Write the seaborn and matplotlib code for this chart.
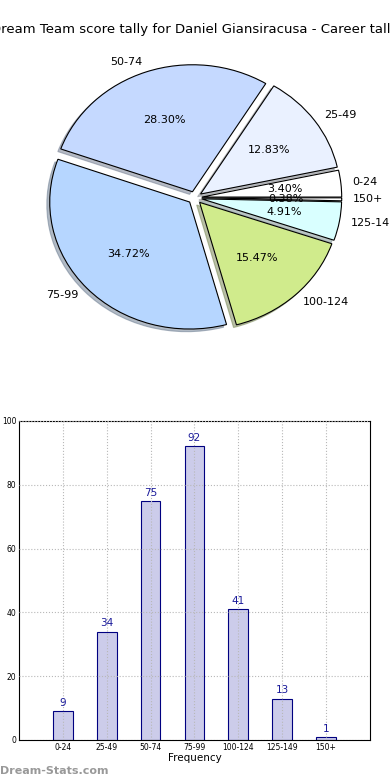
import matplotlib
matplotlib.use("Agg")
import matplotlib.pyplot as plt
import seaborn as sns
import pandas as pd

categories = ["0-24", "25-49", "50-74", "75-99", "100-124", "125-149", "150+"]
counts = [9, 34, 75, 92, 41, 13, 1]
pie_colors = ["#ffffff", "#eaf1ff", "#c5d9ff", "#b6d6ff", "#d0eb8c", "#d9ffff", "#ffffff"]
title = "Dream Team score tally for Daniel Giansiracusa - Career tally"

sns.set_style("white")
plt.rcParams['font.family'] = ['DejaVu Sans']
plt.rcParams['text.color'] = 'black'
plt.rcParams['xtick.color'] = 'black'
plt.rcParams['ytick.color'] = 'black'
plt.rcParams['axes.labelcolor'] = 'black'

fig = plt.figure(figsize=(3.9, 7.8), dpi=100)

# Pie
axp = fig.add_axes([0.051, 0.543, 0.897, 0.407])
axp.pie(counts, labels=categories, colors=pie_colors, explode=[0.05] * len(counts),
        autopct="%.2f%%", shadow={"ox": -0.015, "oy": -0.015, "shade": 0.45},
        startangle=0, labeldistance=1.08,
        wedgeprops=dict(edgecolor="black", linewidth=0.8),
        textprops=dict(fontsize=8))
axp.set_aspect("auto")
axp.set_xlim(-1.25, 1.25)
axp.set_ylim(-1.25, 1.25)
fig.text(0.5, 0.962, title, ha="center", va="center", fontsize=9.5)

# Bars
df = pd.DataFrame({"cat": categories, "count": counts})
axb = fig.add_axes([0.0487, 0.0513, 0.9, 0.409])
sns.barplot(data=df, x="cat", y="count", ax=axb, color="#ccccea",
            edgecolor="#000080", linewidth=0.8, width=0.45, saturation=1)
for i, v in enumerate(counts):
    axb.text(i, v + 1, str(v), ha="center", va="bottom", fontsize=7.5, color="#1a1a9a")
axb.set_xlim(-1, 7)
axb.set_ylim(0, 100)
axb.set_yticks([0, 20, 40, 60, 80, 100])
axb.set_xlabel("Frequency", fontsize=7.5, labelpad=1)
axb.set_ylabel("")
axb.grid(True, linestyle=":", color="#b8b8b8", linewidth=0.8)
axb.set_axisbelow(False)
for b in axb.patches:
    b.set_zorder(1)
axb.tick_params(axis="both", labelsize=5.5, direction="in", length=2, pad=2)
for s in axb.spines.values():
    s.set_color("black")
    s.set_linewidth(0.8)

fig.text(0.0, 0.011, "Dream-Stats.com", fontsize=8, color="#999999", fontweight="bold", ha="left", va="center")

fig.savefig("out.png", dpi=100)
